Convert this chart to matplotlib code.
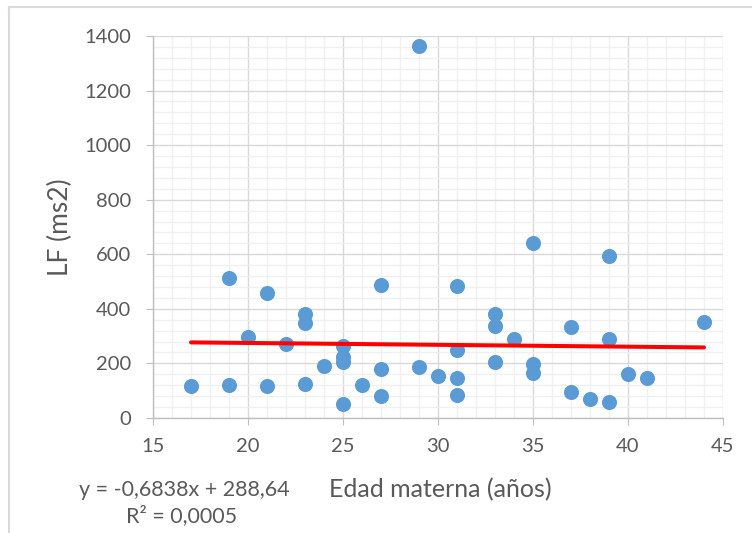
import numpy as np
from matplotlib import pyplot as plt
from matplotlib.ticker import MultipleLocator
from matplotlib.lines import Line2D

# maternal age (years) and LF (ms2)
edad = [17, 19, 19, 20, 21, 21, 22, 23, 23, 23, 24, 25, 25, 25, 25, 26, 27, 27, 27,
        29, 29, 30, 31, 31, 31, 31, 33, 33, 33, 34, 35, 35, 35, 37, 37, 38, 39, 39, 39,
        40, 41, 44]
lf = [118, 512, 120, 298, 458, 116, 270, 380, 348, 123, 189, 264, 225, 206, 52, 121,
      487, 180, 82, 1365, 188, 154, 484, 248, 145, 84, 382, 336, 206, 289, 640, 198,
      166, 333, 94, 70, 595, 289, 59, 160, 145, 352]

# linear trend from the Excel label
slope = -0.6838
intercept = 288.64
eq_text = 'y = -0,6838x + 288,64'
r2_text = 'R² = 0,0005'

plt.rcParams['font.family'] = ['Lato', 'DejaVu Sans']
txt_col = '#595959'

fig = plt.figure(figsize=(7.52, 5.33), dpi=100)
ax = fig.add_axes([0.2035, 0.2158, 0.7579, 0.7167])

# chart frame (left and top edges visible in the crop)
fig.add_artist(Line2D([0.012, 0.012], [0.0, 0.987], color='#D9D9D9', lw=1.5))
fig.add_artist(Line2D([0.012, 1.0], [0.987, 0.987], color='#D9D9D9', lw=1.5))

ax.scatter(edad, lf, s=118, color='#5B9BD5', zorder=3, linewidths=0)

x_fit = np.array([min(edad), max(edad)])
ax.plot(x_fit, slope * x_fit + intercept, color='#FF0000', lw=2.9, zorder=4,
        solid_capstyle='round')

ax.set_xlim(15, 45)
ax.set_ylim(0, 1400)
ax.xaxis.set_major_locator(MultipleLocator(5))
ax.xaxis.set_minor_locator(MultipleLocator(1))
ax.yaxis.set_major_locator(MultipleLocator(200))
ax.yaxis.set_minor_locator(MultipleLocator(40))

ax.grid(which='minor', color='#F0F0F0', lw=1.0, zorder=0)
ax.grid(which='major', color='#D9D9D9', lw=1.0, zorder=1)
ax.set_axisbelow(True)

for side in ['top', 'right']:
    ax.spines[side].set_visible(False)
for side in ['left', 'bottom']:
    ax.spines[side].set_color('#BFBFBF')
    ax.spines[side].set_linewidth(1.0)

ax.tick_params(which='major', length=5, color='#BFBFBF', labelsize=14.5,
               labelcolor=txt_col)
ax.tick_params(axis='y', pad=11)
ax.tick_params(axis='x', pad=9.5)
ax.tick_params(which='minor', length=0)

fig.text(0.080, 0.574, 'LF (ms2)', fontsize=19, color=txt_col, rotation=90,
         ha='center', va='center')
fig.text(0.586, 0.081, 'Edad materna (años)', fontsize=18, color=txt_col,
         ha='center', va='center')
fig.text(0.245, 0.081, eq_text, fontsize=15.5, color=txt_col, ha='center', va='center')
fig.text(0.241, 0.032, r2_text, fontsize=15.5, color=txt_col, ha='center', va='center')

fig.savefig('out.png', dpi=100)
